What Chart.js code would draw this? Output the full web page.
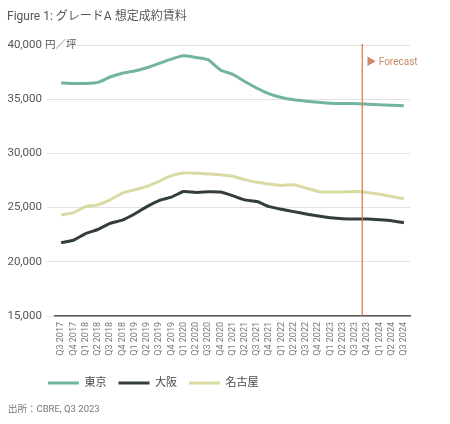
<!DOCTYPE html>
<html>
<head>
<meta charset="utf-8">
<script src="https://cdn.jsdelivr.net/npm/chart.js@4.4.0/dist/chart.umd.min.js"></script>
<style>
  html, body { margin: 0; padding: 0; background: #fff; }
  #wrap { width: 450px; height: 424px; }
</style>
</head>
<body>
<div id="wrap"><canvas id="chart" width="450" height="424"></canvas></div>
<script>
const quarters = [
    'Q3 2017', 'Q4 2017',
    'Q1 2018', 'Q2 2018', 'Q3 2018', 'Q4 2018',
    'Q1 2019', 'Q2 2019', 'Q3 2019', 'Q4 2019',
    'Q1 2020', 'Q2 2020', 'Q3 2020', 'Q4 2020',
    'Q1 2021', 'Q2 2021', 'Q3 2021', 'Q4 2021',
    'Q1 2022', 'Q2 2022', 'Q3 2022', 'Q4 2022',
    'Q1 2023', 'Q2 2023', 'Q3 2023', 'Q4 2023',
    'Q1 2024', 'Q2 2024', 'Q3 2024'
];

// 円／坪
const tokyo = [36500, 36450, 36450, 36550, 37050, 37400, 37600, 37900, 38300, 38700,
    39000, 38850, 38650, 37700, 37300, 36630, 36010, 35490, 35150, 34940,
    34820, 34720, 34630, 34600, 34600, 34540, 34480, 34450, 34390];
const osaka = [21770, 21990, 22610, 22980, 23540, 23850, 24410, 25090, 25650, 25960,
    26490, 26400, 26460, 26430, 26100, 25710, 25560, 25090, 24850, 24630,
    24410, 24220, 24070, 23980, 23940, 23940, 23880, 23790, 23600];
const nagoya = [24320, 24530, 25090, 25250, 25710, 26340, 26650, 26960, 27420, 27950,
    28200, 28170, 28110, 28040, 27900, 27580, 27330, 27170, 27050, 27110,
    26800, 26490, 26430, 26430, 26490, 26400, 26240, 26030, 25810];

const yTicks = [15000, 20000, 25000, 30000, 35000, 40000];
const forecastAt = 24.6;   // between Q3 2023 and Q4 2023

const titleText = 'Figure 1: グレードA 想定成約賃料';
const unitText = '円／坪';
const sourceText = '出所：CBRE, Q3 2023';

const FONT = "Roboto, 'Noto Sans CJK JP', sans-serif";
Chart.defaults.font.family = FONT;

const overlay = {
    id: 'overlay',
    afterLayout(chart) {
        // legend starts under the plot, not at the page edge
        if (chart.legend) chart.legend.left = 36;
    },
    afterDatasetsDraw(chart) {
        const { ctx, chartArea, scales } = chart;
        const x = scales.x;
        const step = x.getPixelForValue(1) - x.getPixelForValue(0);
        const fx = x.getPixelForValue(Math.floor(forecastAt)) + (forecastAt % 1) * step;
        ctx.save();
        ctx.strokeStyle = '#c8795a';
        ctx.lineWidth = 1.2;
        ctx.beginPath();
        ctx.moveTo(fx, chartArea.top - 1);
        ctx.lineTo(fx, chartArea.bottom);
        ctx.stroke();
        ctx.fillStyle = '#c98866';
        ctx.font = '10px ' + FONT;
        ctx.textBaseline = 'middle';
        ctx.fillText('▶ Forecast', fx + 4, 62);
        ctx.restore();
    },
    afterDraw(chart) {
        const { ctx, scales } = chart;
        const yTop = scales.y.getPixelForValue(40000);
        ctx.save();
        // unit next to top tick, gridline starts after it
        ctx.fillStyle = '#fff';
        ctx.fillRect(44, yTop - 4, 33, 8);
        ctx.fillStyle = '#555';
        ctx.font = '10.5px ' + FONT;
        ctx.textBaseline = 'middle';
        ctx.fillText(unitText, 45, yTop);

        ctx.font = '12px ' + FONT;
        ctx.fillStyle = '#555';
        ctx.fillText(titleText, 7, 17);

        ctx.font = '9.5px ' + FONT;
        ctx.fillStyle = '#777';
        ctx.fillText(sourceText, 8, 410);
        ctx.restore();
    }
};

const line = (label, data, color) => ({
    label: label,
    data: data,
    borderColor: color,
    backgroundColor: color,
    borderWidth: 3,
    pointRadius: 0,
    tension: 0.15
});

new Chart(document.getElementById('chart'), {
    type: 'line',
    data: {
        labels: quarters,
        datasets: [
            line('東京', tokyo, '#72b3a3'),
            line('大阪', osaka, '#343d3e'),
            line('名古屋', nagoya, '#d9dba3')
        ]
    },
    options: {
        responsive: false,
        animation: false,
        layout: { padding: { top: 45, left: 0, right: 40, bottom: 25.5 } },
        plugins: {
            title: { display: false },
            tooltip: { enabled: false },
            legend: {
                position: 'bottom',
                align: 'start',
                labels: {
                    usePointStyle: true,
                    pointStyle: 'line',
                    pointStyleWidth: 31,
                    padding: 12,
                    color: '#4a4a4a',
                    font: { size: 11 }
                }
            }
        },
        scales: {
            x: {
                offset: true,
                grid: { display: false, drawTicks: false },
                border: { display: true, color: '#555', width: 1.5 },
                ticks: {
                    autoSkip: false,
                    maxRotation: 90,
                    minRotation: 90,
                    padding: 6,
                    color: '#777',
                    font: { size: 9 }
                },
                afterFit: (axis) => { axis.height = 49.5; }
            },
            y: {
                min: 15000,
                max: 40000,
                afterBuildTicks: (axis) => { axis.ticks = yTicks.map(v => ({ value: v })); },
                grid: { color: '#e2e2e2', lineWidth: 1, tickLength: 8, drawTicks: true },
                border: { display: false },
                ticks: {
                    padding: 5,
                    color: '#555',
                    font: { size: 11.5 },
                    callback: (v) => v.toLocaleString('en-US')
                },
                afterFit: (axis) => { axis.width = 55; }
            }
        }
    },
    plugins: [overlay]
});
</script>
</body>
</html>
